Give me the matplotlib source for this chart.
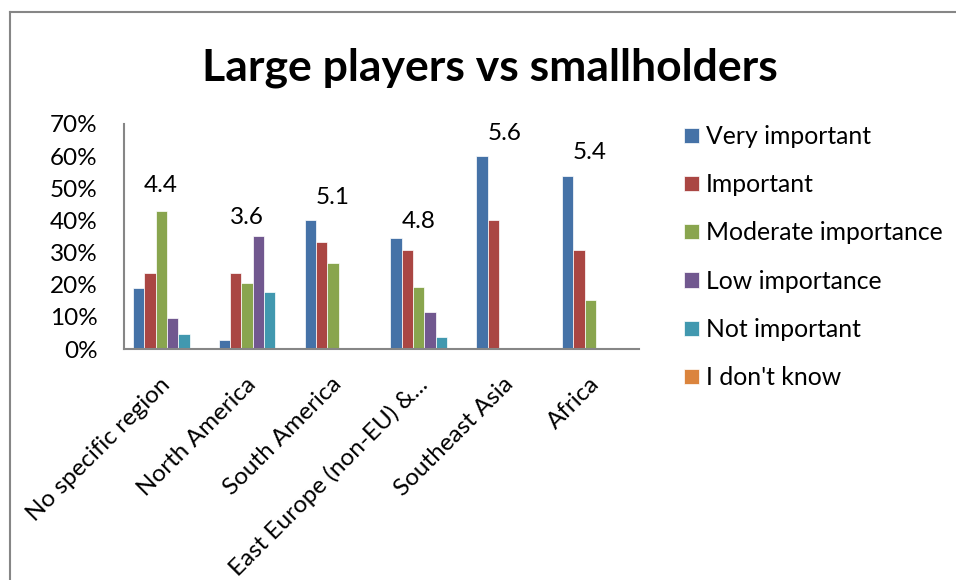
import numpy as np
import matplotlib.pyplot as plt
from matplotlib.lines import Line2D

plt.rcParams['font.family'] = ['Lato', 'DejaVu Sans']

regions = ['No specific region', 'North America', 'South America',
           'East Europe (non-EU) &...', 'Southeast Asia', 'Africa']
series = ['Very important', 'Important', 'Moderate importance',
          'Low importance', 'Not important', "I don't know"]

very_important = [19.0, 2.9, 40.0, 34.6, 60.0, 53.8]
important = [23.8, 23.5, 33.3, 30.8, 40.0, 30.8]
moderate = [42.9, 20.6, 26.7, 19.2, 0, 15.4]
low = [9.5, 35.3, 0, 11.5, 0, 0]
not_important = [4.8, 17.6, 0, 3.8, 0, 0]
dont_know = [0, 0, 0, 0, 0, 0]

scores = [4.4, 3.6, 5.1, 4.8, 5.6, 5.4]
score_y = [0.510, 0.410, 0.471, 0.398, 0.671, 0.611]

colors = ['#4572A7', '#AA4643', '#89A54E', '#71588F', '#4198AF', '#DB843D']

data = [very_important, important, moderate, low, not_important, dont_know]
fs = 17.5

fig = plt.figure(figsize=(9.56, 5.8), dpi=100)
ax = fig.add_axes([124/956, 1-349/580, (639-124)/956, (349-124)/580])

x = np.arange(len(regions))
w = 0.132
for i, vals in enumerate(data):
    ax.bar(x - 3*w + (i+0.5)*w, np.array(vals)/100, width=w, color=colors[i],
           edgecolor='white', linewidth=0.5, label=series[i])

for i, s in enumerate(scores):
    ax.text(i - 0.07, score_y[i], '%.1f' % s, ha='center', va='center', fontsize=fs)

ax.set_xlim(-0.5, 5.5)
ax.set_ylim(0, 0.70)
ax.set_yticks(np.arange(0, 0.71, 0.1))
ax.set_yticklabels(['%d%%' % v for v in range(0, 71, 10)], fontsize=fs)
ax.set_xticks(x)
ax.set_xticklabels(regions, rotation=45, ha='right', va='center',
                   rotation_mode='anchor', fontsize=fs)
ax.tick_params(axis='y', length=0, pad=19)
ax.tick_params(axis='x', length=0, pad=23)
for sp in ['top', 'right']:
    ax.spines[sp].set_visible(False)
for sp in ['left', 'bottom']:
    ax.spines[sp].set_color('#868686')
    ax.spines[sp].set_linewidth(1.5)

fig.text(490/956, 1-80/580, 'Large players vs smallholders', ha='center',
         va='baseline', fontsize=32, fontweight='bold')

ax.legend(loc='upper left', bbox_to_anchor=(684/956, 1-125/580),
          bbox_transform=fig.transFigure, frameon=False, fontsize=17.8,
          borderpad=0, borderaxespad=0, handlelength=0.61, handleheight=0.57,
          handletextpad=0.28, labelspacing=1.02)

# chart border
fig.add_artist(Line2D([10/956, 10/956], [0, 1-12/580], color='#868686', lw=1.5))
fig.add_artist(Line2D([10/956, 1], [1-12/580, 1-12/580], color='#868686', lw=1.5))

fig.savefig('out.png', dpi=100)
